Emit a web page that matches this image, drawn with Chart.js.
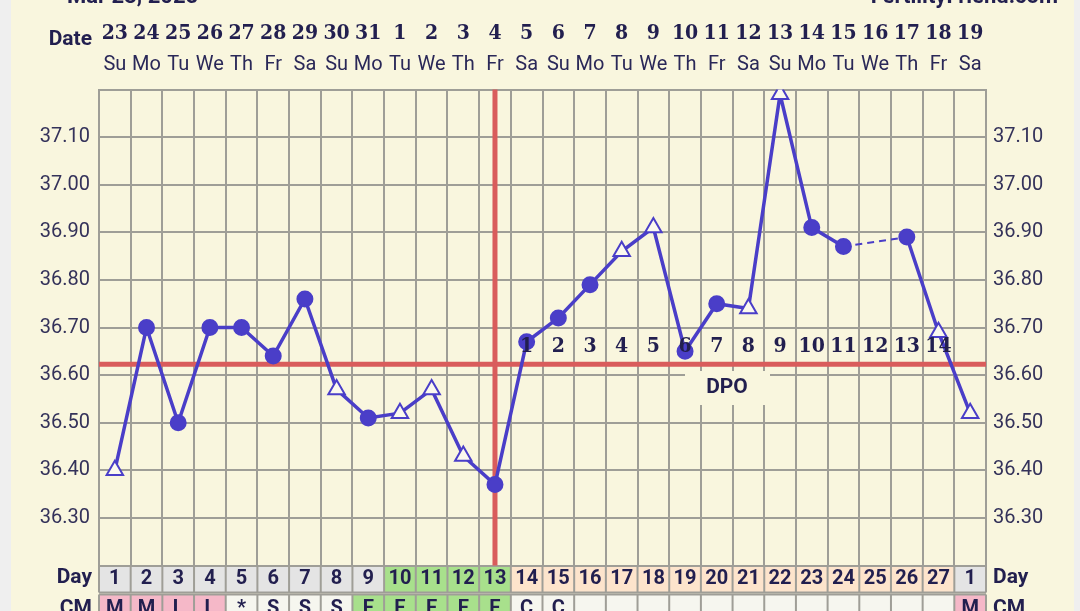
<!DOCTYPE html>
<html>
<head>
<meta charset="utf-8">
<script src="https://cdn.jsdelivr.net/npm/chart.js@4.4.1/dist/chart.umd.min.js"></script>
<style>
  html, body { margin: 0; padding: 0; background: #efefef; overflow: hidden; }
  #wrap { width: 1080px; height: 611px; position: relative; }
</style>
</head>
<body>
<div id="wrap"><canvas id="bbtChart" width="1080" height="611"></canvas></div>
<script>
// chart data
const dates = ['23','24','25','26','27','28','29','30','31','1','2','3','4','5','6','7','8','9','10','11','12','13','14','15','16','17','18','19'];
const weekdays = ['Su','Mo','Tu','We','Th','Fr','Sa','Su','Mo','Tu','We','Th','Fr','Sa','Su','Mo','Tu','We','Th','Fr','Sa','Su','Mo','Tu','We','Th','Fr','Sa'];
const cycleDays = ['1','2','3','4','5','6','7','8','9','10','11','12','13','14','15','16','17','18','19','20','21','22','23','24','25','26','27','1'];
const cmCodes = ['M','M','L','L','*','S','S','S','E','E','E','E','E','C','C','','','','','','','','','','','','','M'];
const temps = [36.40, 36.70, 36.50, 36.70, 36.70, 36.64, 36.76, 36.57, 36.51, 36.52, 36.57, 36.43, 36.37, 36.67,
               36.72, 36.79, 36.86, 36.91, 36.65, 36.75, 36.74, 37.19, 36.91, 36.87, null, 36.89, 36.69, 36.52];
// open triangle = temperature flagged as disturbed
const openMarks = [1,0,0,0,0,0,0,1,0,1,1,1,0,0,0,0,1,1,0,0,1,1,0,0,0,0,1,1];
const dpoLabels = ['','','','','','','','','','','','','','1','2','3','4','5','6','7','8','9','10','11','12','13','14',''];
// day row phase: p = period/pre, f = fertile, l = luteal
const dayPhase = ['p','p','p','p','p','p','p','p','p','f','f','f','f','l','l','l','l','l','l','l','l','l','l','l','l','l','l','p'];
const coverline = 36.623;
const ovulationIndex = 12;
const yMin = 36.2, yMax = 37.2;

const CREAM = '#f9f6de';
const GRID = '#9f9e97';
const NAVY = '#221f4f';
const LINE = '#4a3ec8';
const RED = '#d95c5c';
const SLAB = '"DejaVu Serif Condensed", "DejaVu Serif", serif';
const phaseColors = { p: '#e4e4e4', f: '#a8e08c', l: '#fde4cc' };
const cmColor = code => (code === 'M' || code === 'L') ? '#f5b8c8' : (code === 'E' ? '#a8e08c' : '#f6f6ef');

function yTickLabel(value) {
  const v = Math.round(value * 100);
  if (v % 10 !== 0 || v < 3630 || v > 3710) return '';
  return (v / 100).toFixed(2);
}

function drawRow(c, scale, top, bottom, colors) {
  const n = colors.length;
  for (let i = 0; i < n; i++) {
    const x0 = scale.getPixelForValue(i - 0.5);
    const x1 = scale.getPixelForValue(i + 0.5);
    c.fillStyle = colors[i];
    c.fillRect(x0, top, x1 - x0, bottom - top);
  }
  c.strokeStyle = GRID;
  c.lineWidth = 2;
  c.beginPath();
  for (let i = 0; i <= n; i++) {
    const x = scale.getPixelForValue(i - 0.5);
    c.moveTo(x, top); c.lineTo(x, bottom);
  }
  c.moveTo(scale.left, top); c.lineTo(scale.right, top);
  c.moveTo(scale.left, bottom); c.lineTo(scale.right, bottom);
  c.stroke();
}

// background and the day / CM table under the bottom tick labels
const backdrop = {
  id: 'backdrop',
  beforeDraw(chart) {
    const c = chart.ctx;
    const x = chart.scales.x;
    const cm = chart.scales.cm;
    c.save();
    c.fillStyle = '#efefef';
    c.fillRect(0, 0, chart.width, chart.height);
    c.fillStyle = CREAM;
    c.fillRect(11, 0, 1063, chart.height);
    drawRow(c, x, x.top + 0.5, x.bottom - 1, dayPhase.map(p => phaseColors[p]));
    drawRow(c, cm, cm.top + 1, cm.bottom + 20, cmCodes.map(cmColor));
    c.restore();
  }
};

// coverline, ovulation line, DPO box and numbers
const marks = {
  id: 'marks',
  beforeDatasetsDraw(chart) {
    const c = chart.ctx;
    const {x, y} = chart.scales;
    const area = chart.chartArea;
    c.save();
    // DPO caption box
    c.fillStyle = CREAM;
    c.fillRect(685, 371, 85, 34);
    c.fillStyle = NAVY;
    c.font = 'bold 21px Roboto';
    c.textAlign = 'center';
    c.textBaseline = 'middle';
    c.fillText('DPO', 727, 388);
    c.strokeStyle = RED;
    c.lineWidth = 5;
    c.beginPath();
    const cy = y.getPixelForValue(coverline);
    c.moveTo(area.left, cy); c.lineTo(area.right, cy);
    const ox = x.getPixelForValue(ovulationIndex);
    c.moveTo(ox, area.top); c.lineTo(ox, area.bottom);
    c.stroke();
    c.restore();
  },
  afterDatasetsDraw(chart) {
    const c = chart.ctx;
    const {x, y} = chart.scales;
    c.save();
    c.fillStyle = NAVY;
    c.font = 'bold 21px ' + SLAB;
    c.textAlign = 'center';
    c.textBaseline = 'middle';
    const ly = y.getPixelForValue(coverline) - 18;
    dpoLabels.forEach((t, i) => { if (t) c.fillText(t, x.getPixelForValue(i), ly); });
    c.restore();
  },
  afterDraw(chart) {
    const c = chart.ctx;
    c.save();
    c.fillStyle = NAVY;
    c.textBaseline = 'middle';
    c.font = 'bold 21px Roboto';
    c.textAlign = 'right';
    c.fillText('Date', 92, 40);
    c.fillText('Day', 92, 578);
    c.fillText('CM', 92, 609);
    c.textAlign = 'left';
    c.fillText('Day', 993, 578);
    c.fillText('CM', 993, 609);
    c.textBaseline = 'alphabetic';
    c.font = 'bold 22px Roboto';
    c.textAlign = 'left';
    c.fillText('Mar 23, 2025', 67, 3);
    c.textAlign = 'right';
    c.fillText('FertilityFriend.com', 1058, 3);
    c.restore();
  }
};

const isGap = ctx => ctx.p0.skip || ctx.p1.skip || temps[ctx.p0DataIndex] === null ||
  ctx.p1DataIndex - ctx.p0DataIndex > 1;
const gapDash = ctx => isGap(ctx) ? [7, 5] : undefined;
const gapWidth = ctx => isGap(ctx) ? 2 : undefined;

const tickColor = '#34325a';

new Chart(document.getElementById('bbtChart'), {
  type: 'line',
  data: {
    labels: dates,
    datasets: [{
      label: 'BBT',
      data: temps,
      xAxisID: 'x',
      yAxisID: 'y',
      borderColor: LINE,
      borderWidth: 3.5,
      tension: 0,
      spanGaps: true,
      segment: { borderDash: gapDash, borderWidth: gapWidth },
      pointStyle: openMarks.map(o => o ? 'triangle' : 'circle'),
      pointRadius: openMarks.map(o => o ? 9.5 : 7.5),
      pointBackgroundColor: openMarks.map(o => o ? '#fbf9ee' : LINE),
      pointBorderColor: LINE,
      pointBorderWidth: 2,
      pointHoverRadius: 0
    }]
  },
  options: {
    responsive: false,
    animation: false,
    events: [],
    layout: { padding: 0 },
    plugins: { legend: { display: false }, title: { display: false }, tooltip: { enabled: false } },
    scales: {
      xd: {
        type: 'category', position: 'top', weight: 2, labels: dates, offset: true,
        grid: { display: false, drawTicks: false }, border: { display: false },
        ticks: { autoSkip: false, maxRotation: 0, padding: 4, color: NAVY,
                 font: { family: SLAB, size: 21, weight: 'bold' } },
        afterFit: s => { s.height = 50; }
      },
      xw: {
        type: 'category', position: 'top', weight: 1, labels: weekdays, offset: true,
        grid: { display: false, drawTicks: false }, border: { display: false },
        ticks: { autoSkip: false, maxRotation: 0, padding: 12.5, color: '#2a2858',
                 font: { family: 'Roboto', size: 20 } },
        afterFit: s => { s.height = 39.5; }
      },
      x: {
        type: 'category', position: 'bottom', weight: 1, labels: cycleDays, offset: true,
        grid: { offset: true, color: GRID, lineWidth: 2, drawTicks: false },
        border: { display: true, color: GRID, width: 2 },
        ticks: { autoSkip: false, maxRotation: 0, padding: 1.5, color: NAVY,
                 font: { family: 'Roboto', size: 20, weight: 'bold' } },
        afterFit: s => { s.height = 28; }
      },
      cm: {
        type: 'category', position: 'bottom', weight: 2, labels: cmCodes, offset: true,
        grid: { display: false, drawTicks: false }, border: { display: false },
        ticks: { autoSkip: false, maxRotation: 0, padding: 3.5, color: NAVY,
                 font: { family: 'Roboto', size: 20, weight: 'bold' } },
        afterFit: s => { s.height = 17.5; }
      },
      y: {
        type: 'linear', position: 'left', min: yMin, max: yMax,
        grid: { color: GRID, lineWidth: 2, drawTicks: false },
        border: { display: true, color: GRID, width: 2 },
        ticks: { stepSize: 0.05, maxTicksLimit: 40, padding: 9, color: tickColor,
                 font: { family: 'Roboto', size: 20 }, callback: yTickLabel },
        afterFit: s => { s.width = 99; }
      },
      y2: {
        type: 'linear', position: 'right', min: yMin, max: yMax,
        grid: { drawOnChartArea: false, drawTicks: false },
        border: { display: true, color: GRID, width: 2 },
        ticks: { stepSize: 0.05, maxTicksLimit: 40, padding: 7, color: tickColor,
                 font: { family: 'Roboto', size: 20 }, callback: yTickLabel },
        afterFit: s => { s.width = 94; }
      }
    }
  },
  plugins: [backdrop, marks]
});
</script>
</body>
</html>
